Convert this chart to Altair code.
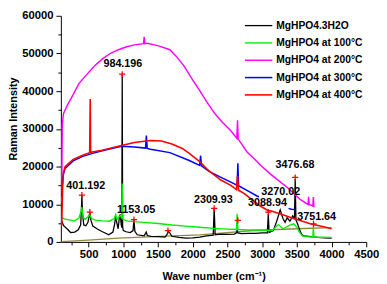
import altair as alt
import pandas as pd

SERIES = ["MgHPO4.3H2O", "MgHPO4 at 100°C", "MgHPO4 at 200°C", "MgHPO4 at 300°C", "MgHPO4 at 400°C"]
COLORS = ["#000000", "#00ee00", "#ff00ff", "#0000ff", "#ff0000"]
WIDTHS = [1.3, 1.6, 2.3, 2.1, 2.3]

black_x = [110, 140, 200, 240, 300, 350, 385, 396, 403, 412, 430, 460, 490, 510, 518, 530, 560, 620, 700, 790,
           850, 875, 890, 905, 925, 945, 955, 970, 978, 984, 990, 1000, 1040, 1100, 1140, 1153, 1166, 1200, 1300, 1330,
           1345, 1400, 1500, 1600, 1630, 1645, 1665, 1700, 1800, 1900, 2000, 2100, 2200, 2295, 2309, 2323, 2400, 2500, 2600, 2630,
           2640, 2650, 2700, 2800, 2900, 3000, 3075, 3088, 3100, 3160, 3210, 3260, 3300, 3330, 3360, 3400, 3440, 3465, 3476, 3487,
           3510, 3540, 3570, 3600, 3700, 3800, 3900, 4000]
black_y = [5600, 4300, 3300, 2500, 2600, 3200, 4500, 8500, 12300, 7500, 4500, 4300, 5200, 7000, 7800, 6000, 4200, 3500, 2700, 1900,
           2600, 4800, 6800, 5200, 3500, 6800, 7300, 4500, 3800, 44300, 4000, 3000, 2700, 2500, 3000, 5900, 2800, 1900, 1600, 2600,
           1700, 1500, 1400, 1300, 2000, 2800, 2500, 1500, 1200, 1000, 1100, 1300, 1600, 1800, 9000, 1900, 2100, 2000, 2100, 2400,
           3200, 2400, 2200, 2300, 2300, 2400, 2400, 7400, 2500, 3000, 5500, 8500, 6200, 5200, 6400, 5500, 6900, 6000, 16700, 5800,
           4800, 3200, 2000, 1600, 1400, 1200, 1100, 1000]

green_x = [110, 150, 200, 300, 360, 385, 403, 420, 450, 490, 515, 540, 600, 700, 800, 870, 890, 910, 945, 960,
           975, 984, 993, 1050, 1150, 1300, 1500, 1700, 1900, 2100, 2300, 2500, 2630, 2640, 2650, 2800, 3000, 3150, 3232, 3300,
           3386, 3455, 3500, 3530, 3580, 3650, 3730, 3738, 3746, 3850, 4000]
green_y = [6500, 6100, 5900, 5600, 6300, 7800, 9200, 6500, 6000, 6700, 7400, 6200, 5800, 5600, 5500, 6200, 7300, 6000, 6800, 7000,
           6200, 15500, 6000, 5600, 5400, 5200, 4900, 4500, 4200, 3900, 3600, 3400, 3300, 7500, 3300, 3200, 3100, 3100, 4600, 3500,
           4300, 4800, 3900, 2700, 1600, 1400, 1300, 4000, 1300, 1250, 1200]

mag_x = [112, 120, 137, 200, 277, 360, 462, 580, 695, 810, 928, 1050, 1160, 1290, 1300, 1310, 1346, 1450, 1531, 1671,
         1760, 1870, 1980, 2089, 2200, 2320, 2430, 2549, 2635, 2645, 2655, 2786, 2900, 2972, 3134, 3371, 3553, 3660, 3669, 3678,
         3700, 3730, 3738, 3746, 3755]
mag_y = [10700, 31000, 34000, 36500, 39100, 42000, 44200, 46600, 48500, 50000, 51000, 51800, 52300, 52600, 54400, 52600, 52700, 52300, 51900, 51000,
         49300, 46800, 43500, 40500, 37200, 34000, 31700, 29500, 27500, 32300, 27300, 23800, 21800, 20400, 17800, 14300, 11200, 9950, 12000, 9900,
         9800, 9500, 11900, 9400, 9300]

blue_x = [114, 125, 137, 161, 277, 416, 556, 695, 880, 974, 1160, 1320, 1332, 1344, 1392, 1670, 1950, 2100, 2113, 2126,
          2230, 2400, 2600, 2640, 2650, 2660, 2800, 2925, 2955]
blue_y = [12000, 16500, 18000, 19500, 21500, 22700, 23500, 24200, 25000, 25400, 25200, 24900, 28200, 24800, 24600, 23700, 21600, 20300, 22900, 20200,
          18800, 17200, 15400, 15000, 20900, 14900, 13500, 12200, 12000]
blue2_x = [3380, 3420, 3480]
blue2_y = [8900, 8700, 8600]

red_x = [112, 125, 137, 161, 277, 416, 515, 523, 529, 695, 974, 1160, 1392, 1550, 1700, 1850, 1950, 2100, 2230, 2400,
         2549, 2630, 2645, 2660, 2744, 2850, 2950, 3088, 3134, 3413, 3692, 3901, 4000]
red_y = [4300, 14000, 18400, 20000, 21900, 23000, 23700, 37900, 23800, 24300, 25600, 26400, 26900, 26800, 26000, 24800, 23500, 21300, 18900, 16500,
         15000, 13900, 17500, 13700, 12800, 11200, 9800, 8300, 8200, 6500, 4800, 3980, 3500]

olive_x = [110, 500, 930, 1530, 2100, 2925, 3500, 4000]
olive_y = [100, 500, 1000, 1450, 1850, 3100, 3500, 3800]

peak_x = [403, 518, 984, 1153, 1643, 2309, 2650, 3088, 3476, 3740]
peak_y = [12400, 7900, 44500, 5900, 3000, 8900, 5700, 7900, 17100, 4800]

label_text = ["984.196", "401.192", "1153.05", "2309.93", "3088.94", "3270.02", "3476.68", "3751.64"]
label_x = [993, 458, 1183, 2297, 3076, 3267, 3472, 3785]
label_y = [47300, 14700, 8400, 11200, 10350, 13300, 20300, 6500]

rows = []
for name, seg, xs_, ys_ in [
    (SERIES[0], 0, black_x, black_y),
    (SERIES[1], 0, green_x, green_y),
    (SERIES[2], 0, mag_x, mag_y),
    (SERIES[3], 0, blue_x, blue_y),
    (SERIES[3], 1, blue2_x, blue2_y),
    (SERIES[4], 0, red_x, red_y),
]:
    for xv, yv in zip(xs_, ys_):
        rows.append({"series": name, "seg": seg, "x": xv, "y": yv})
df = pd.DataFrame(rows)
olive_df = pd.DataFrame({"x": olive_x, "y": olive_y})
peak_df = pd.DataFrame({"x": peak_x, "y": peak_y})
label_df = pd.DataFrame({"text": label_text, "x": label_x, "y": label_y})

FONT = "Liberation Sans"
xs = alt.Scale(domain=[100, 4500], nice=False, zero=False)
ys = alt.Scale(domain=[0, 60000], nice=False)

common = dict(grid=False, domainColor="black", tickColor="black", labelColor="black",
              titleColor="black", labelFont=FONT, titleFont=FONT, labelFontWeight="bold",
              titleFontWeight="bold")

x_major = alt.Axis(values=list(range(500, 4501, 500)), title="Wave number (cm⁻¹)", format="d",
                   labelFontSize=11.5, titleFontSize=11, tickSize=5, labelPadding=2, titlePadding=11,
                   orient="bottom", labelFlush=False, labelOverlap=False, **common)
y_major = alt.Axis(values=list(range(0, 60001, 10000)), title="Raman Intensity", format="d",
                   labelFontSize=11.5, titleFontSize=11, tickSize=5, labelPadding=3, titlePadding=3,
                   titleY=105, orient="left", labelFlush=False, labelOverlap=False, **common)
x_minor = alt.Axis(values=list(range(250, 4500, 500)), labels=False, domain=False, title=None,
                   tickSize=3, orient="bottom", grid=False, tickColor="black")
y_minor = alt.Axis(values=list(range(5000, 60000, 10000)), labels=False, domain=False, title=None,
                   tickSize=3, orient="left", grid=False, tickColor="black")

olive = alt.Chart(olive_df).mark_line(color="#8f8a3d", strokeWidth=1.3).encode(
    x=alt.X("x:Q", scale=xs, axis=x_minor),
    y=alt.Y("y:Q", scale=ys, axis=y_minor),
)

lines = alt.Chart(df).mark_line().encode(
    x=alt.X("x:Q", scale=xs, axis=x_major),
    y=alt.Y("y:Q", scale=ys, axis=y_major),
    color=alt.Color("series:N", scale=alt.Scale(domain=SERIES, range=COLORS),
                    legend=alt.Legend(title=None, orient="none", legendX=196, legendY=4,
                                      symbolType="M-2.8,0H2.8", symbolSize=100, symbolStrokeWidth=1.5,
                                      labelFont=FONT, labelFontWeight="bold", labelFontSize=10.5,
                                      labelColor="black", rowPadding=5.7, labelOffset=12)),
    strokeWidth=alt.StrokeWidth("series:N", scale=alt.Scale(domain=SERIES, range=WIDTHS), legend=None),
    detail="seg:N",
)

peaks = alt.Chart(peak_df).mark_point(shape="M-1,0H1M0,-1V1", filled=False, color="#ff0000",
                                      strokeWidth=1.3, size=40, opacity=1).encode(
    x=alt.X("x:Q", scale=xs, axis=None),
    y=alt.Y("y:Q", scale=ys, axis=None),
)

labels = alt.Chart(label_df).mark_text(font=FONT, fontWeight="bold", fontSize=11, color="black",
                                       align="center", baseline="middle").encode(
    x=alt.X("x:Q", scale=xs, axis=None),
    y=alt.Y("y:Q", scale=ys, axis=None),
    text="text:N",
)

chart = alt.layer(olive, lines, peaks, labels).resolve_axis(x="independent", y="independent").properties(
    width=312, height=231,
    autosize=alt.AutoSizeParams(type="none"),
    padding={"left": 54, "top": 5, "right": 13, "bottom": 40},
).configure_view(stroke=None)

chart.save("out.html", embed_options={"renderer": "svg", "actions": False})
